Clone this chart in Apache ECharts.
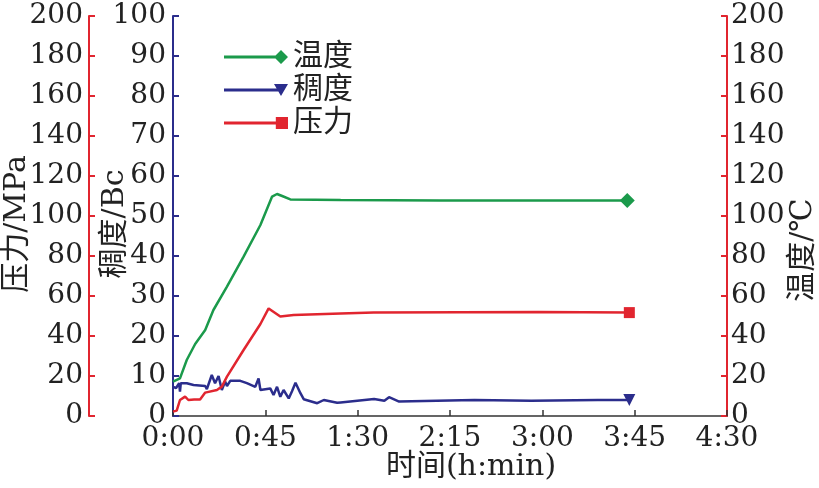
<!DOCTYPE html>
<html><head><meta charset="utf-8">
<script src="https://cdn.jsdelivr.net/npm/echarts@6/dist/echarts.min.js"></script>
<style>html,body{margin:0;padding:0;background:#fff}#c{width:819px;height:488px}</style>
</head><body><div id="c"></div>
<script>
// time in minutes
const tempTime  = [0, 3.4, 6.7, 10.8, 15.7, 19.7, 26.3, 34.4, 42.6, 48.3, 50.7, 53.2, 57.2, 81.7, 130, 180, 221.4];
const tempValue = [17.2, 18.8, 28, 36, 43, 53, 64.7, 79.7, 95.5, 109.7, 111, 110, 108.3, 108, 107.7, 107.7, 107.7];

const presTime  = [0, 1.8, 3.4, 5.9, 7.5, 10.3, 13.2, 15.7, 21.4, 23.8, 26.3, 34.4, 42.6, 46.6, 52.3, 58.8, 81.7, 97.8, 140, 178, 222.4];
const presValue = [2.2, 2.7, 8, 9.7, 8, 8.3, 8.3, 11.7, 13, 14.7, 19.7, 33, 46, 53.8, 49.7, 50.5, 51.3, 51.7, 51.9, 52, 51.7];

const consTime  = [0, 1.5, 3.0, 3.4, 3.8, 6.7, 10, 15.7, 16.5, 18.9, 20.5, 22.2, 23.8, 25.4, 26.3, 27.9, 32.8, 36, 40.1, 41.7, 42.6, 47.4, 49, 50.7, 52.3, 53.9, 56.4, 58, 59.7, 62.1, 63.7, 70.3, 73.5, 80, 81.7, 98, 103, 105.3, 110.2, 146.9, 174.6, 207, 222.4];
const consValue = [7.3, 7.0, 8.2, 6.1, 8.2, 8.2, 7.75, 7.5, 6.7, 10.25, 8.2, 10, 6.5, 8.6, 7.5, 8.8, 8.8, 8.2, 7.3, 9.4, 6.5, 6.9, 5.25, 7.3, 4.8, 6.5, 4.4, 6.2, 8.3, 5.7, 4.2, 3.2, 4, 3.3, 3.4, 4.25, 3.8, 4.7, 3.6, 4, 3.8, 4, 4];

const seriesNames = ['温度', '稠度', '压力'];
const axisNames = ['压力/MPa', '稠度/Bc', '温度/℃'];
const xAxisName = '时间(h:min)';

const GREEN = '#1b9a4b', BLUE = '#2b2d8c', RED = '#e1252f', TXT = '#222';
const FONT = '"DejaVu Serif", "Noto Sans CJK SC", serif';

function build(ts, vs, sym, size) {
  return ts.map((t, i) => i === ts.length - 1
    ? { value: [t, vs[i]], symbol: sym, symbolSize: size }
    : { value: [t, vs[i]] });
}
function fmtTime(v) { const h = Math.floor(v / 60), m = Math.round(v % 60); return h + ':' + (m < 10 ? '0' + m : m); }

const chart = echarts.init(document.getElementById('c'), null, { renderer: 'canvas' });
const labelStyle = { color: TXT, fontSize: 28, fontFamily: FONT };
const nameStyle = { color: TXT, fontSize: 30, fontFamily: FONT };

chart.setOption({
  animation: false,
  backgroundColor: '#fff',
  grid: { left: 173, right: 92, top: 16, bottom: 72, containLabel: false, outerBoundsMode: 'none' },
  legend: {
    left: 219, top: 36, orient: 'vertical', itemWidth: 64, itemHeight: 14, itemGap: 1,
    textStyle: { color: TXT, fontSize: 30, lineHeight: 32, fontFamily: FONT },
    data: [
      { name: '温度', icon: 'path://M0,5.5L55,5.5L55,8.5L0,8.5Z M57,0L64,7L57,14L50,7Z' },
      { name: '稠度', icon: 'path://M0,5.5L55,5.5L55,8.5L0,8.5Z M50,1L64,1L57,13Z' },
      { name: '压力', icon: 'path://M0,5.5L55,5.5L55,8.5L0,8.5Z M51,1L63,1L63,13L51,13Z' }
    ]
  },
  xAxis: {
    type: 'value', min: 0, max: 270, interval: 45,
    name: xAxisName, nameLocation: 'middle', nameGap: 36, nameMoveOverlap: false,
    nameTextStyle: Object.assign({}, nameStyle, { padding: [0, 0, 0, 42] }),
    axisLine: { onZero: false, lineStyle: { color: '#333', width: 1.5 } },
    axisTick: { inside: true, length: 6, lineStyle: { color: '#333', width: 1.5 } },
    axisLabel: Object.assign({ margin: 9, formatter: fmtTime }, labelStyle),
    splitLine: { show: false }
  },
  yAxis: [
    {
      type: 'value', position: 'left', offset: 84, min: 0, max: 200, interval: 20,
      name: axisNames[0], nameLocation: 'middle', nameRotate: 90, nameGap: 57, nameMoveOverlap: false,
      nameTextStyle: Object.assign({}, nameStyle, { padding: [0, 16, 0, 0] }),
      axisLine: { show: true, onZero: false, lineStyle: { color: RED, width: 2 } },
      axisTick: { show: true, inside: true, length: 6, lineStyle: { color: RED, width: 2 } },
      axisLabel: Object.assign({ margin: 6 }, labelStyle),
      splitLine: { show: false }
    },
    {
      type: 'value', position: 'left', offset: 0, min: 0, max: 100, interval: 10,
      name: axisNames[1], nameLocation: 'middle', nameRotate: 90, nameGap: 43, nameMoveOverlap: false,
      nameTextStyle: Object.assign({}, nameStyle, { padding: [0, 16, 0, 0] }),
      axisLine: { show: true, onZero: false, lineStyle: { color: BLUE, width: 2 } },
      axisTick: { show: true, inside: true, length: 6, lineStyle: { color: BLUE, width: 2 } },
      axisLabel: Object.assign({ margin: 7 }, labelStyle),
      splitLine: { show: false }
    },
    {
      type: 'value', position: 'right', offset: 0, min: 0, max: 200, interval: 20,
      name: axisNames[2], nameLocation: 'middle', nameRotate: 90, nameGap: 61, nameMoveOverlap: false,
      nameTextStyle: Object.assign({}, nameStyle, { padding: [0, 68, 0, 0] }),
      axisLine: { show: true, onZero: false, lineStyle: { color: RED, width: 2 } },
      axisTick: { show: true, inside: true, length: 6, lineStyle: { color: RED, width: 2 } },
      axisLabel: Object.assign({ margin: 4 }, labelStyle),
      splitLine: { show: false }
    }
  ],
  series: [
    { name: seriesNames[0], type: 'line', yAxisIndex: 2, data: build(tempTime, tempValue, 'diamond', 15),
      symbol: 'none', showSymbol: true, showAllSymbol: true, color: GREEN,
      lineStyle: { color: GREEN, width: 2.5 }, itemStyle: { color: GREEN } },
    { name: seriesNames[1], type: 'line', yAxisIndex: 1, data: build(consTime, consValue, 'triangle', 12),
      symbol: 'none', showSymbol: true, showAllSymbol: true, color: BLUE, symbolRotate: 180,
      lineStyle: { color: BLUE, width: 2.5 }, itemStyle: { color: BLUE } },
    { name: seriesNames[2], type: 'line', yAxisIndex: 0, data: build(presTime, presValue, 'rect', 11),
      symbol: 'none', showSymbol: true, showAllSymbol: true, color: RED,
      lineStyle: { color: RED, width: 2.5 }, itemStyle: { color: RED } }
  ]
});
</script>
</body></html>
